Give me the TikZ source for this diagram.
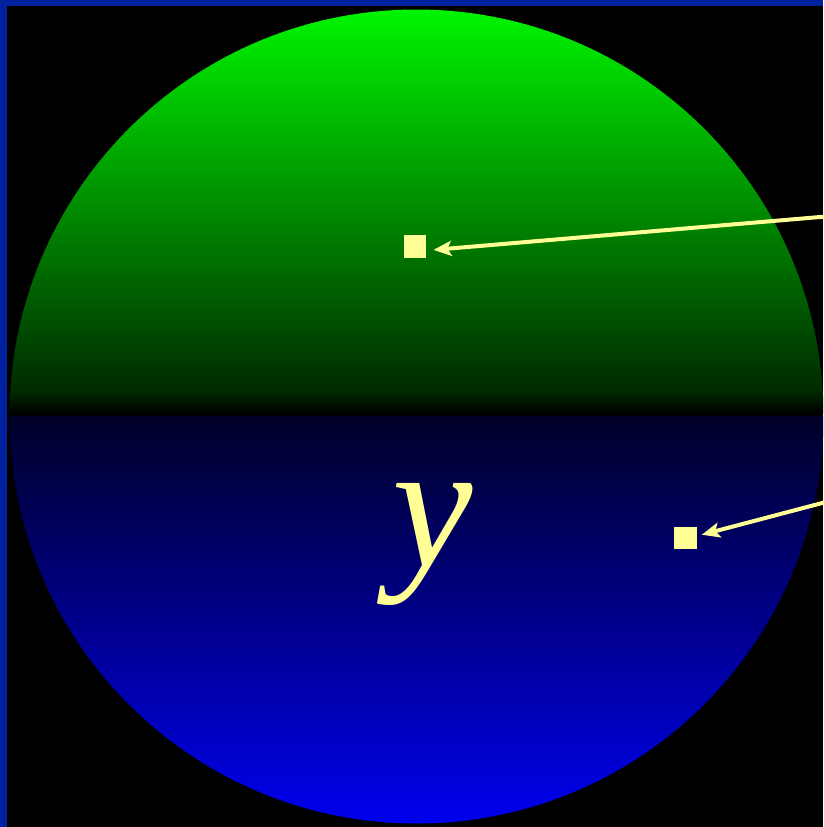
\documentclass[tikz,border=0pt]{standalone}
\usepackage{fontspec}
\setmainfont{Liberation Serif}
\usetikzlibrary{arrows.meta}
\definecolor{frameblue}{RGB}{0,34,160}
\definecolor{pale}{RGB}{255,255,150}
\definecolor{topgreen}{RGB}{0,245,0}
\definecolor{lowgreen}{RGB}{0,42,0}
\definecolor{navy}{RGB}{0,0,40}
\definecolor{brightblue}{RGB}{0,0,238}
\tikzset{
  marker/.style={fill=pale, draw=none, minimum size=22.5pt, inner sep=0pt},
  pointer/.style={draw=pale, line width=4pt, -{Stealth[length=18pt,width=15pt,inset=4pt]}},
}
\begin{document}
\begin{tikzpicture}[x=1pt,y=-1pt]
\useasboundingbox (0,0) rectangle (823,827);
\fill[black] (0,0) rectangle (823,827);
\begin{scope}
  \clip (416.5,416.5) circle (407);
  \shade[top color=topgreen, bottom color=lowgreen] (0,9) rectangle (823,392);
  \shade[top color=lowgreen, bottom color=black] (0,391) rectangle (823,413);
  \fill[black] (0,412) rectangle (823,417);
  \shade[top color=navy, bottom color=brightblue] (0,416) rectangle (823,824);
\end{scope}
\fill[frameblue] (0,0) rectangle (823,6);
\fill[frameblue] (0,0) rectangle (7,827);
\node[marker] (sq1) at (415,246.5) {};
\node[marker] (sq2) at (685.5,538) {};
\coordinate (a1) at (826,216.5);
\coordinate (a2) at (826,502);
\draw[pointer, shorten >=7pt] (a1) -- ([yshift=-4pt]sq1.east);
\draw[pointer, shorten >=5pt] (a2) -- ([yshift=2pt]sq2.east);
\node[text=pale, anchor=base, inner sep=0pt, font=\fontsize{181}{181}\selectfont\itshape] (lbl) at (433,566) {y};
\end{tikzpicture}
\end{document}
